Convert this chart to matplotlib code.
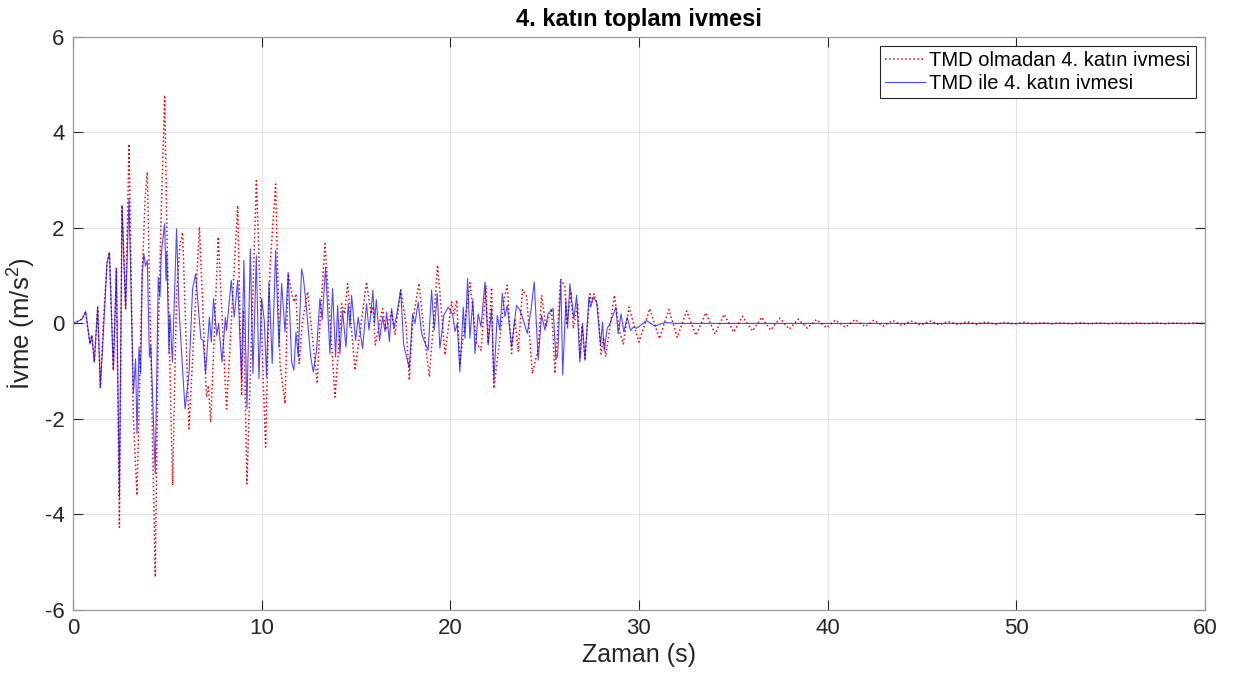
import matplotlib
matplotlib.use("Agg")
import matplotlib.pyplot as plt

# (time s, acceleration m/s^2)
free_pts = [
    (0, 0), (0.3, 0.05), (0.5, 0.1), (0.67, 0.25), (0.9, -0.43), (1.0, -0.25), (1.13, -0.81),
    (1.31, 0.34), (1.45, -1.35), (1.6, -0.04), (1.8, 1.25), (1.93, 1.49), (2.14, -0.98),
    (2.3, 1.16), (2.46, -4.27), (2.6, 2.47), (2.79, 0.31), (2.97, 3.76), (3.2, -1.96),
    (3.39, -3.6), (3.5, -1.82), (3.67, 1.07), (3.83, 2.65), (3.94, 3.17), (4.36, -5.31),
    (4.52, -0.29), (4.68, 2.37), (4.86, 4.78), (4.98, 1.88), (5.28, -3.39), (5.49, 0.62),
    (5.68, 1.67), (5.81, 1.91), (6.15, -2.2), (6.7, 2.02), (7.08, -1.54), (7.18, -1.3),
    (7.3, -2.07), (7.7, 1.81), (8.14, -1.79), (8.73, 2.47), (8.94, -1.51), (9.04, 0.27),
    (9.22, -3.36), (9.72, 2.99), (10.21, -2.59), (10.44, 1.18), (10.74, 2.92), (10.97, -0.84),
    (11.24, -1.68), (11.41, 1.04), (11.64, 0.55), (11.73, 0.45), (11.82, 0.62), (11.99, -0.84),
    (12.16, 0.03), (12.44, 0.66), (12.95, -1.26), (13.09, 0.0), (13.36, 1.67), (13.89, -1.54),
    (14.24, 0.41), (14.4, 0.2), (14.56, 0.83), (14.95, -0.98), (15.56, 0.87), (15.8, 0.2),
    (15.92, 0.35), (16.02, -0.45), (16.41, 0.31), (16.59, -0.14), (16.89, 0.24), (17.07, -0.24),
    (17.37, 0.7), (17.65, 0.0), (17.83, -1.19), (18.0, 0.03), (18.34, 0.84), (18.66, -0.35),
    (18.89, -1.12), (19.1, -0.03), (19.33, 1.22), (19.72, -0.66), (20.07, 0.45), (20.2, 0.2),
    (20.34, 0.49), (20.51, -0.84), (21.05, 0.85), (21.2, 0.28), (21.4, -0.42), (21.63, -0.56),
    (21.89, 0.8), (22.01, -0.42), (22.19, 0.75), (22.31, -1.36), (22.6, -0.42), (22.86, 0.52),
    (23.02, 0.8), (23.25, -0.63), (23.42, 0.1), (23.6, -0.59), (23.83, 0.71), (24.05, 0.56),
    (24.35, -1.05), (24.66, -0.53), (24.84, 0.59), (25.07, -0.07), (25.37, 0.31), (25.55, -1.05),
    (25.85, 0.93), (26.08, 0.77), (26.17, -0.03), (26.39, 0.66), (26.52, -0.11), (26.75, 0.4),
    (26.88, -0.7), (26.98, -0.04), (27.14, -0.74), (27.4, 0.62), (27.5, 0.45), (27.62, 0.62),
    (27.82, 0.34), (27.99, -0.64), (28.12, -0.29), (28.24, -0.7), (28.7, 0.59), (28.96, -0.15),
    (29.17, -0.43), (29.47, 0.34), (30.0, -0.39), (30.58, 0.31), (31.08, -0.32), (31.59, 0.29),
    (32.03, -0.29), (32.53, 0.26), (33.02, -0.25), (33.55, 0.22), (34.03, -0.22), (34.52, 0.19),
    (35.03, -0.18), (35.49, 0.15), (36.03, -0.16), (36.5, 0.13), (36.98, -0.14), (37.47, 0.11),
    (37.97, -0.12), (38.45, 0.09), (38.92, -0.1), (39.41, 0.08), (39.95, -0.09), (40.42, 0.07),
    (40.95, -0.08), (41.45, 0.08), (42.0, -0.07), (42.46, 0.07), (42.95, -0.056), (43.45, 0.063),
    (43.93, -0.045), (44.42, 0.05), (44.93, -0.035), (45.43, 0.05), (45.92, -0.03), (46.4, 0.04),
    (46.93, -0.022), (47.4, 0.035), (47.9, -0.02), (48.4, 0.03), (48.9, -0.02), (49.4, 0.022),
    (49.9, -0.015), (50.4, 0.02), (50.9, -0.01), (51.4, 0.015), (51.9, -0.01), (52.4, 0.013),
    (52.9, -0.01), (53.4, 0.012), (53.9, -0.008), (54.4, 0.011), (54.9, -0.008), (55.4, 0.01),
    (55.9, -0.007), (56.4, 0.01), (56.9, -0.006), (57.4, 0.009), (57.9, -0.006), (58.4, 0.008),
    (58.9, -0.005), (59.4, 0.008), (59.9, -0.005), (60.0, 0.0),
]

tmd_pts = [
    (0, 0), (0.3, 0.05), (0.5, 0.1), (0.67, 0.25), (0.9, -0.43), (1.0, -0.25), (1.13, -0.81),
    (1.31, 0.34), (1.45, -1.35), (1.6, -0.29), (1.8, 1.25), (1.93, 1.49), (2.14, -0.98),
    (2.3, 1.16), (2.46, -3.64), (2.6, 2.47), (2.79, 0.31), (2.97, 2.61), (3.2, -1.47),
    (3.32, -0.74), (3.39, -2.31), (3.5, -0.5), (3.59, -1.05), (3.67, 1.07), (3.76, 1.46),
    (3.84, 1.2), (3.94, 1.32), (4.05, -0.7), (4.13, -0.46), (4.36, -3.15), (4.52, 0.97),
    (4.61, 0.55), (4.68, 1.46), (4.86, 2.09), (4.93, 0.9), (4.97, 1.5), (5.09, -0.64),
    (5.14, 0.2), (5.27, -0.81), (5.49, 1.98), (5.62, 0.31), (5.8, -0.9), (5.94, -1.79),
    (6.15, -1.05), (6.34, 0.73), (6.5, 1.04), (6.78, -0.32), (6.9, -0.36), (7.03, -1.05),
    (7.23, 0.13), (7.33, -0.39), (7.45, 0.52), (7.62, -0.25), (7.72, 0.0), (7.9, -0.81),
    (8.08, 0.13), (8.14, -0.15), (8.39, 0.9), (8.55, 0.13), (8.73, 0.9), (8.94, -1.19),
    (9.06, 1.32), (9.22, -1.79), (9.4, 1.56), (9.54, -1.05), (9.72, 1.42), (9.86, -1.16),
    (10.0, 0.52), (10.14, 0.06), (10.26, -1.12), (10.39, 0.87), (10.56, -0.84), (10.74, 1.53),
    (10.92, -0.5), (11.06, 0.84), (11.24, -0.18), (11.41, 1.07), (11.59, -0.81), (11.71, -0.98),
    (11.82, -0.18), (11.94, -0.7), (12.12, 1.14), (12.21, 0.97), (12.38, 0.31), (12.6, -0.7),
    (12.74, -1.02), (12.91, -0.57), (13.09, 0.52), (13.21, 0.07), (13.39, 1.18), (13.62, -0.64),
    (13.76, 0.73), (13.92, -0.7), (14.03, 0.38), (14.15, -0.64), (14.29, 0.27), (14.47, -0.5),
    (14.59, 0.41), (14.68, -0.08), (14.77, 0.59), (14.98, -0.36), (15.12, 0.13), (15.35, -0.53),
    (15.56, 0.41), (15.69, -0.14), (15.79, 0.2), (15.9, 0.7), (15.98, 0.0), (16.08, 0.5),
    (16.25, -0.36), (16.41, 0.14), (16.54, -0.17), (16.63, 0.24), (16.77, -0.38), (16.89, 0.31),
    (17.01, -0.1), (17.16, 0.17), (17.37, 0.7), (17.53, -0.45), (17.83, -0.94), (18.0, 0.2),
    (18.13, 0.0), (18.3, 0.45), (18.48, -0.21), (18.6, -0.35), (18.83, -0.56), (19.01, 0.7),
    (19.15, -0.14), (19.31, 0.63), (19.45, -0.52), (19.66, 0.17), (19.89, 0.34), (20.12, 0.2),
    (20.25, -0.17), (20.37, 0.0), (20.51, -1.02), (20.69, 0.34), (20.78, -0.31), (20.92, 0.94),
    (21.04, -0.31), (21.2, 0.5), (21.31, -0.63), (21.48, 0.2), (21.63, -0.07), (21.84, 0.87),
    (22.01, -0.45), (22.19, 0.31), (22.31, -1.22), (22.49, 0.17), (22.63, -0.14), (22.76, 0.63),
    (22.9, 0.14), (23.02, 0.38), (23.25, -0.49), (23.51, 0.38), (23.69, 0.28), (23.87, 0.07),
    (24.08, -0.21), (24.28, 0.28), (24.45, 0.87), (24.66, -0.77), (24.84, 0.17), (25.02, -0.14),
    (25.19, 0.21), (25.45, 0.31), (25.6, -0.73), (25.69, -0.7), (25.86, 0.91), (25.96, -1.08),
    (26.13, 0.49), (26.22, -0.1), (26.34, 0.83), (26.55, 0.1), (26.7, 0.59), (26.87, -0.81),
    (27.01, 0.0), (27.14, -0.77), (27.35, 0.55), (27.45, 0.34), (27.58, 0.55), (27.76, 0.45),
    (27.97, -0.46), (28.07, 0.03), (28.16, -0.57), (28.32, -0.1), (28.43, -0.04), (28.78, 0.34),
    (28.9, -0.22), (29.05, 0.2), (29.2, -0.18), (29.38, 0.13), (29.56, -0.15), (29.7, -0.08),
    (29.88, -0.1), (30.09, -0.04), (30.4, 0.06), (30.85, -0.06), (31.38, 0.02), (32.0, 0.0),
    (60.0, 0.0),
]

title = "4. katın toplam ivmesi"
labels = ["TMD olmadan 4. katın ivmesi", "TMD ile 4. katın ivmesi"]

t_free, a_free = zip(*free_pts)
t_tmd, a_tmd = zip(*tmd_pts)

plt.rcParams["font.family"] = ["Liberation Sans", "DejaVu Sans"]
plt.rcParams["mathtext.fontset"] = "custom"
plt.rcParams["mathtext.rm"] = "Liberation Sans"
plt.rcParams["mathtext.it"] = "Liberation Sans:italic"
plt.rcParams["axes.unicode_minus"] = False

fig = plt.figure(figsize=(12.37, 6.83), dpi=100)
ax = fig.add_axes([0.059, 0.107, 0.915, 0.839])

ax.plot(t_free, a_free, color="#ff0000", linestyle=":", linewidth=1.1, label=labels[0])
ax.plot(t_tmd, a_tmd, color="#0000ff", linestyle="-", linewidth=0.8, alpha=0.7, label=labels[1])

ax.set_xlim(0, 60)
ax.set_ylim(-6, 6)
ax.set_xticks(range(0, 61, 10))
ax.set_yticks(range(-6, 7, 2))
ax.grid(True, color="#e3e3e3", linewidth=0.8)
ax.set_axisbelow(True)
ax.tick_params(direction="in", length=7, width=0.8, colors="#262626", labelsize=16,
               top=True, right=True, pad=6)
for s in ax.spines.values():
    s.set_color("#9a9a9a")
    s.set_linewidth(0.9)

ax.set_xlabel("Zaman (s)", fontsize=18, color="#262626", labelpad=3)
ax.set_ylabel(r"İvme (m/s$^2$)", fontsize=18.5, color="#262626", labelpad=5)
ax.set_title(title, fontsize=17, fontweight="bold", pad=8)

leg = ax.legend(loc="upper right", fontsize=14.5, fancybox=False, framealpha=1,
                edgecolor="#262626", handlelength=2.0, borderaxespad=0.45,
                handletextpad=0.2, labelspacing=0.2, borderpad=0.25)
leg.get_frame().set_linewidth(0.8)

fig.savefig("out.png", dpi=100)
